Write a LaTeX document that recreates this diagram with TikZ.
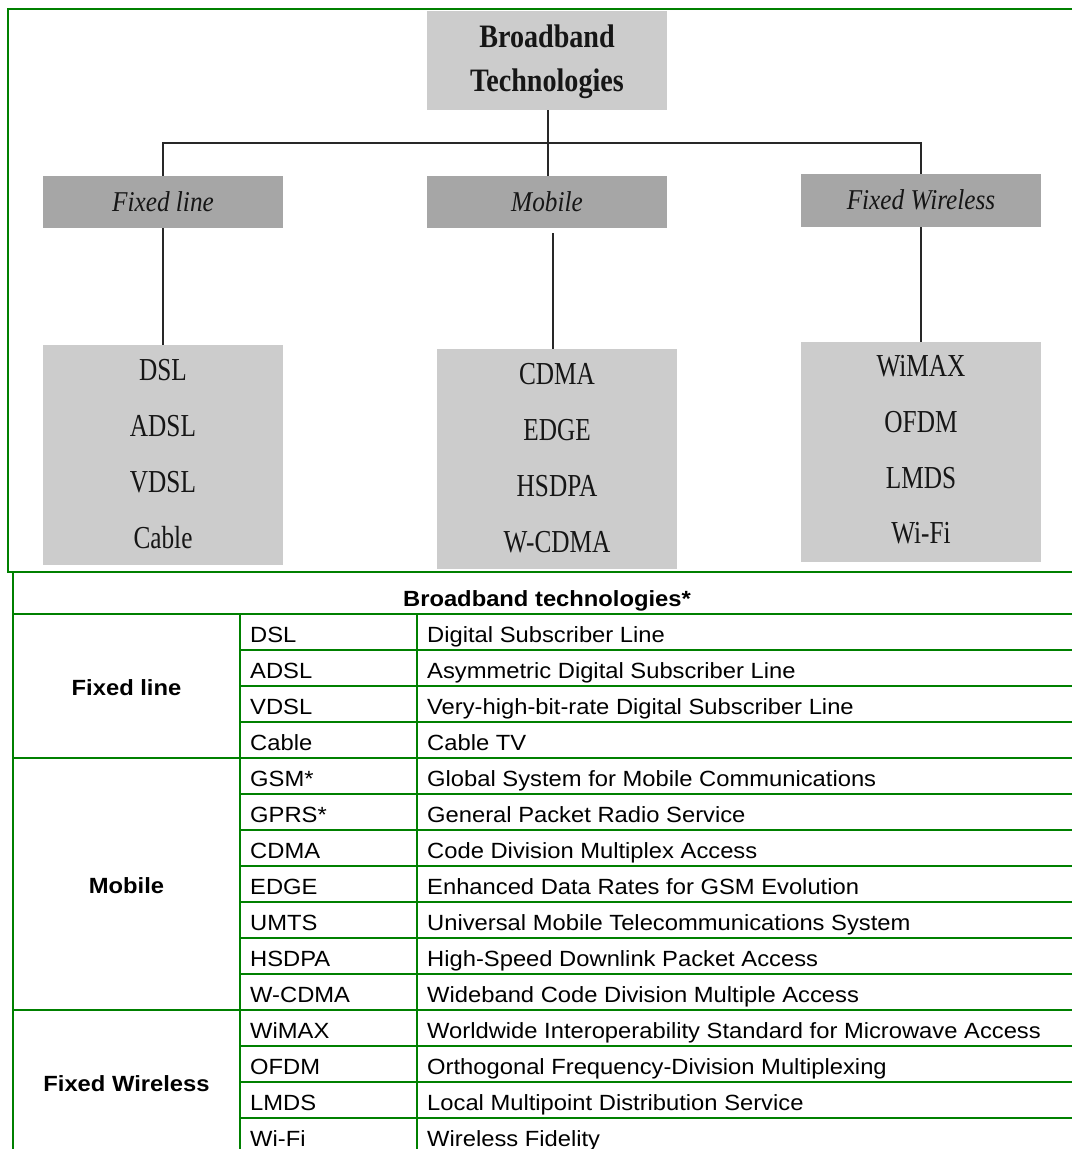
\documentclass[tikz,border=0pt]{standalone}
\usepackage{fontspec}
\setmainfont{Liberation Serif}
\newfontfamily\headserif[FakeStretch=0.86]{Liberation Serif}
\newfontfamily\branchserif[FakeStretch=0.88]{Liberation Serif}
\newfontfamily\leafserif[FakeStretch=0.79]{Liberation Serif}
\newfontfamily\tabsans[FakeStretch=1.08]{Liberation Sans}
\usetikzlibrary{calc}
\definecolor{framegreen}{RGB}{0,128,0}
\definecolor{boxlight}{RGB}{204,204,204}
\definecolor{boxdark}{RGB}{166,166,166}
\definecolor{inkgray}{RGB}{22,22,22}
\definecolor{linkgray}{RGB}{40,40,40}

\begin{document}
\begin{tikzpicture}[x=1pt,y=-1pt,
  box/.style={rectangle, draw=none, inner sep=0pt, minimum width=240pt},
  rootbox/.style={box, fill=boxlight, minimum height=99pt},
  branchbox/.style={box, fill=boxdark},
  leafbox/.style={box, fill=boxlight, minimum height=220pt},
  roottext/.style={inner sep=0pt, anchor=base, text=inkgray,
    font=\headserif\bfseries\fontsize{32.7}{40}\selectfont},
  branchtext/.style={inner sep=0pt, anchor=base, text=inkgray,
    font=\branchserif\itshape\fontsize{28.7}{34}\selectfont},
  leaftext/.style={inner sep=0pt, anchor=base, text=inkgray,
    font=\leafserif\fontsize{32}{38}\selectfont},
  link/.style={draw=linkgray, line width=1.6pt},
  rule/.style={draw=framegreen, line width=2pt},
  cell/.style={inner sep=0pt, anchor=base west, text=black,
    font=\tabsans\fontsize{22}{26}\selectfont},
  groupcell/.style={inner sep=0pt, anchor=base, text=black,
    font=\tabsans\bfseries\fontsize{22}{26}\selectfont},
]
\useasboundingbox (0,0) rectangle (1072,1149);

% ---- tree of broadband technologies ----
\node[rootbox] (root) at (547,60.5) {};
\node[roottext] (rootA) at (547,47) {Broadband};
\node[roottext] (rootB) at (547,91) {Technologies};

\node[branchbox, minimum height=52pt] (fl) at (163,202) {};
\node[branchbox, minimum height=52pt] (mb) at (547,202) {};
\node[branchbox, minimum height=53pt] (fw) at (921,200.5) {};
\node[branchtext] (flT) at (163,211) {Fixed line};
\node[branchtext] (mbT) at (547,211) {Mobile};
\node[branchtext] (fwT) at (921,209) {Fixed Wireless};

\node[leafbox] (flb) at (163,455) {};
\node[leafbox] (mbb) at (557,459) {};
\node[leafbox] (fwb) at (921,452) {};

\foreach \t [count=\i from 0] in {DSL,ADSL,VDSL,Cable}
  \node[leaftext] (flL\i) at ($(flb.north)+(0,36+56*\i)$) {\t};
\foreach \t [count=\i from 0] in {CDMA,EDGE,HSDPA,W-CDMA}
  \node[leaftext] (mbL\i) at ($(mbb.north)+(0,36+56*\i)$) {\t};
\foreach \t [count=\i from 0] in {WiMAX,OFDM,LMDS,Wi-Fi}
  \node[leaftext] (fwL\i) at ($(fwb.north)+(0,35+55.7*\i)$) {\t};

% connectors
\coordinate (bus) at (548,143);
\coordinate (mlink) at (553,0);
\draw[link] (root.south -| bus) -- (mb.north -| bus);
\draw[link] (fl.north) -- (fl.north |- bus) -- (fw.north |- bus) -- (fw.north);
\draw[link] (fl.south) -- (flb.north);
\draw[link] ([yshift=-5pt]mb.south -| mlink) -- (mbb.north -| mlink);
\draw[link] (fw.south) -- (fwb.north);

% ---- green frame around the tree ----
\draw[rule] (1072,9) -- (8,9) -- (8,572) -- (1072,572);

% ---- table ----
\draw[rule] (13,572) -- (13,1149);
\draw[rule] (13,614) -- (1072,614);
\draw[rule] (240,614) -- (240,1149);
\draw[rule] (417,614) -- (417,1149);
\foreach \k in {1,2,3,5,6,7,8,9,10,12,13,14}
  \draw[rule] (240,614+36*\k) -- (1072,614+36*\k);
\draw[rule] (13,758) -- (1072,758);
\draw[rule] (13,1010) -- (1072,1010);

\node[groupcell] (thead) at (547,606) {Broadband technologies*};
\node[groupcell] (gFixed) at (126.5,695) {Fixed line};
\node[groupcell] (gMobile) at (126.5,893) {Mobile};
\node[groupcell] (gWireless) at (126.5,1091) {Fixed Wireless};

\foreach \a/\d [count=\i from 0] in {
  DSL/Digital Subscriber Line,
  ADSL/Asymmetric Digital Subscriber Line,
  VDSL/Very-high-bit-rate Digital Subscriber Line,
  Cable/Cable TV,
  GSM*/Global System for Mobile Communications,
  GPRS*/General Packet Radio Service,
  CDMA/Code Division Multiplex Access,
  EDGE/Enhanced Data Rates for GSM Evolution,
  UMTS/Universal Mobile Telecommunications System,
  HSDPA/High-Speed Downlink Packet Access,
  W-CDMA/Wideband Code Division Multiple Access,
  WiMAX/Worldwide Interoperability Standard for Microwave Access,
  OFDM/Orthogonal Frequency-Division Multiplexing,
  LMDS/Local Multipoint Distribution Service,
  Wi-Fi/Wireless Fidelity}
{
  \node[cell] (ab\i) at (250,642+36*\i) {\a};
  \node[cell] (de\i) at (427,642+36*\i) {\d};
}
\end{tikzpicture}
\end{document}
